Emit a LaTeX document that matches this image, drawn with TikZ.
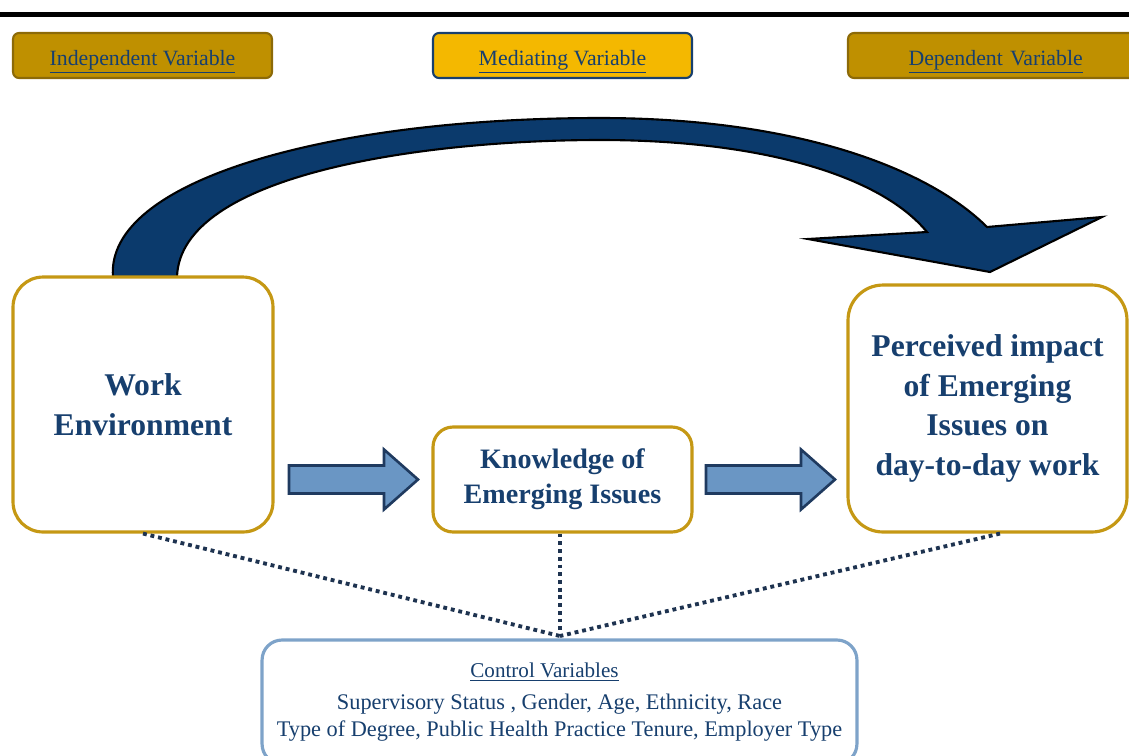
\documentclass[tikz,border=0pt]{standalone}
\usepackage{fontspec}
\setmainfont{Liberation Serif}

\definecolor{navy}{HTML}{173F6E}
\definecolor{arrownavy}{HTML}{0B3A6C}
\definecolor{darkgold}{HTML}{BF9000}
\definecolor{darkgoldline}{HTML}{8C6A08}
\definecolor{brightgold}{HTML}{F4B800}
\definecolor{goldline}{HTML}{C59814}
\definecolor{steel}{HTML}{6A96C4}
\definecolor{steelline}{HTML}{1F3A5F}
\definecolor{ctrlline}{HTML}{7EA3C9}
\definecolor{dotnavy}{HTML}{1E3350}

\newcommand{\hdr}[1]{\raisebox{-0.13cm}[\height][\depth]{\underline{#1}}}

\begin{document}
\begin{tikzpicture}[x=0.02cm,y=-0.02cm,
    varbox/.style={rounded corners=0.12cm,minimum width=5.18cm,minimum height=0.9cm,
      line width=1.2pt,text=navy,font=\fontsize{12.4}{14}\selectfont},
    mainbox/.style={draw=goldline,fill=white,line width=1.8pt,text=navy,align=center},
    blockarrow/.style={draw=steelline,fill=steel,line width=1.5pt},
    dotline/.style={draw=dotnavy,line width=2.2pt,dash pattern=on 2.2pt off 2.2pt}]

    \useasboundingbox (0,0) rectangle (1129,755);
    \clip (0,0) rectangle (1129,755);

    \fill[black] (0,12) rectangle (1129,17);

    \node[varbox,fill=darkgold,draw=darkgoldline] (indep) at (142.5,55.5) {\hdr{Independent Variable}};
    \node[varbox,fill=brightgold,draw=navy] (med) at (562.5,55.5) {\hdr{Mediating Variable}};
    \node[varbox,fill=darkgold,draw=darkgoldline,minimum width=5.84cm,text width=5.1cm,align=left] (dep) at (994,55.5) {\hspace{0.84cm}\hdr{Dependent Variable}};

    \draw[fill=arrownavy,draw=black,line width=1.2pt,line join=miter]
      (113,277) .. controls (105,180) and (330,118) .. (600,118)
      .. controls (800,118) and (930,170) .. (987,227)
      -- (1102,217) -- (990,272) -- (808,239) -- (927,232)
      .. controls (880,175) and (760,140) .. (600,140)
      .. controls (420,140) and (180,175) .. (177,277) -- cycle;

    \node[mainbox,rounded corners=0.6cm,minimum width=5.2cm,minimum height=5.1cm,
      font=\fontsize{18}{22.7}\selectfont\bfseries] (work) at (143,404.5) {Work\\Environment};
    \node[mainbox,rounded corners=0.4cm,minimum width=5.18cm,minimum height=2.1cm,
      font=\fontsize{16}{19.9}\selectfont\bfseries] (know) at (562.5,479.5) {Knowledge of\\Emerging Issues};
    \node[mainbox,rounded corners=0.7cm,minimum width=5.58cm,minimum height=4.94cm,
      font=\fontsize{18}{22.5}\selectfont\bfseries] (perc) at (987.5,408.5) {Perceived impact\\of Emerging\\Issues on\\day-to-day work};

    \path (work.east |- know) -- (know.west) coordinate[midway] (a1);
    \path (know.east) -- (know.east -| perc.west) coordinate[midway] (a2);
    \foreach \a in {a1,a2}
      \draw[blockarrow,shift={(\a)}] (-64,-14) -- (31,-14) -- (31,-30) -- (65,0)
        -- (31,30) -- (31,14) -- (-64,14) -- cycle;

    \coordinate (hub) at (560,636);
    \draw[dotline] (work.south) -- (hub);
    \draw[dotline] (know.south -| hub) -- (hub);
    \draw[dotline] ([xshift=0.25cm]perc.south) -- (hub);

    \node[draw=ctrlline,fill=white,line width=1.8pt,rounded corners=0.4cm,
      minimum width=11.9cm,minimum height=2.48cm,text=navy,align=center,
      font=\fontsize{12.7}{15.5}\selectfont] (ctrl) at (559.5,702)
      {\hspace*{-0.6cm}{\fontsize{12}{14}\selectfont\underline{Control Variables}}\\[2.5pt]
       Supervisory Status , Gender, Age, Ethnicity, Race\\
       Type of Degree, Public Health Practice Tenure, Employer Type};

\end{tikzpicture}
\end{document}
